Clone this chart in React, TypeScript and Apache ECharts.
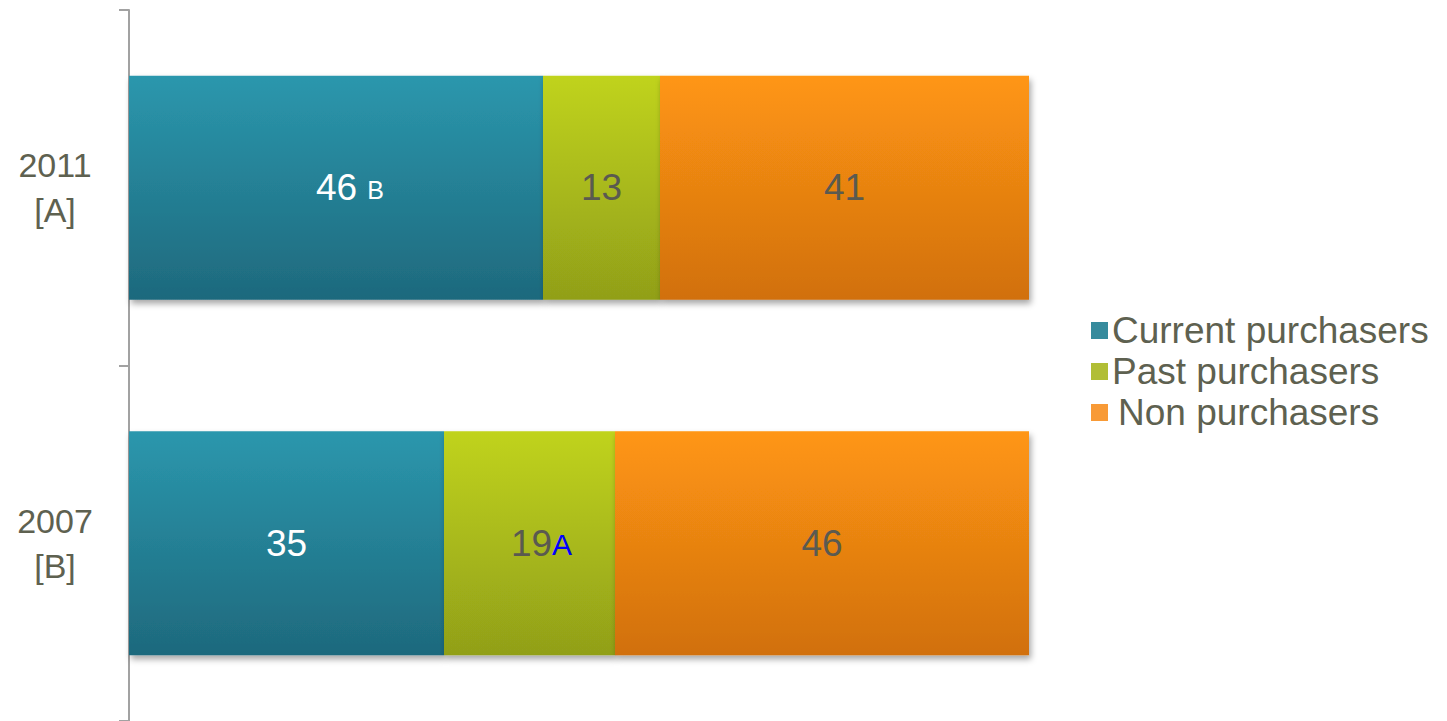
import React, { useEffect, useRef } from "react";
import * as echarts from "echarts";

const categories = ["2011\n[A]", "2007\n[B]"];
const seriesNames = ["Current purchasers", "Past purchasers", "Non purchasers"];
const currentPurchasers = [46, 35];
const pastPurchasers = [13, 19];
const nonPurchasers = [41, 46];
const currentSig = ["B", ""];
const pastSig = ["", "A"];

const TEXT = "#5E6150";
const LABEL_GRAY = "#5A5A50";
const FONT = "'Liberation Sans', Arial, sans-serif";

const grad = (top: string, bottom: string) =>
  new echarts.graphic.LinearGradient(0, 0, 0, 1, [
    { offset: 0, color: top },
    { offset: 1, color: bottom },
  ]);

const legendColors = ["#368B9D", "#B1BE35", "#F89A36"];
const legendTextPad = [0, 0, 0, 5];

export default function App() {
  const ref = useRef<HTMLDivElement>(null);
  useEffect(() => {
    if (!ref.current) return;
    const chart = echarts.init(ref.current, null, { renderer: "svg" });

    const shadow = {
      shadowBlur: 6,
      shadowOffsetY: 4,
      shadowOffsetX: 2,
      shadowColor: "rgba(0,0,0,0.35)",
    };

    const mkData = (
      vals: number[],
      sig: string[],
      color: string,
      sigColor: string,
      sigSize: number,
      sigPad: number,
      offsetX: number,
      spaced: boolean
    ) =>
      vals.map((v, i) =>
        sig[i]
          ? {
              value: v,
              label: {
                formatter: spaced ? `{v|${v}} {s|${sig[i]}}` : `{v|${v}}{s|${sig[i]}}`,
                offset: [offsetX, 0],
                rich: {
                  v: { fontSize: 37, color, fontFamily: FONT },
                  s: { fontSize: sigSize, color: sigColor, fontFamily: FONT, padding: [sigPad, 0, 0, 0] },
                },
              },
            }
          : v
      );

    const baseLabel = (color: string) => ({
      show: true,
      position: "inside",
      fontSize: 37,
      fontFamily: FONT,
      color,
    });

    chart.setOption({
      animation: false,
      backgroundColor: "#FFFFFF",
      grid: { left: 129, right: 418, top: 10, bottom: 0, containLabel: false },
      legend: {
        orient: "vertical",
        left: 1091,
        top: 310,
        padding: 0,
        itemWidth: 17,
        itemHeight: 17,
        itemGap: 0,
        icon: "rect",
        selectedMode: false,
        textStyle: {
          fontSize: 37,
          color: TEXT,
          fontFamily: FONT,
          lineHeight: 41,
          padding: [0, 0, 0, -1],
        },
        data: seriesNames.map((n, i) => ({
          name: n,
          itemStyle: { color: legendColors[i] },
          ...(i === 2 ? { textStyle: { padding: legendTextPad } } : {}),
        })),
      },
      xAxis: { type: "value", min: 0, max: 100, show: false },
      yAxis: {
        type: "category",
        inverse: true,
        data: categories,
        axisLine: { show: true, lineStyle: { color: "#A2A2A2", width: 2 } },
        axisTick: { show: true, length: 10, lineStyle: { color: "#A2A2A2", width: 2 } },
        axisLabel: {
          align: "center",
          margin: 74,
          fontSize: 34,
          lineHeight: 45,
          color: TEXT,
          fontFamily: FONT,
        },
        splitLine: { show: false },
      },
      series: [
        {
          name: seriesNames[0],
          type: "bar",
          stack: "total",
          barWidth: "63%",
          itemStyle: { color: grad("#2B97AD", "#1E697D"), ...shadow },
          label: baseLabel("#FFFFFF"),
          data: mkData(currentPurchasers, currentSig, "#FFFFFF", "#FFFFFF", 25, 4, 14, true),
        },
        {
          name: seriesNames[1],
          type: "bar",
          stack: "total",
          barWidth: "63%",
          itemStyle: { color: grad("#C0D31C", "#919F19"), ...shadow },
          label: baseLabel(LABEL_GRAY),
          data: mkData(pastPurchasers, pastSig, LABEL_GRAY, "#0000FF", 30, 3, 12, false),
        },
        {
          name: seriesNames[2],
          type: "bar",
          stack: "total",
          barWidth: "63%",
          itemStyle: { color: grad("#FF9613", "#D1700F"), ...shadow },
          label: baseLabel(LABEL_GRAY),
          data: nonPurchasers,
        },
      ],
    });
    return () => chart.dispose();
  }, []);

  return (
    <div
      ref={ref}
      style={{ position: "fixed", left: 0, top: 0, width: 1447, height: 721, background: "#FFFFFF" }}
    />
  );
}
